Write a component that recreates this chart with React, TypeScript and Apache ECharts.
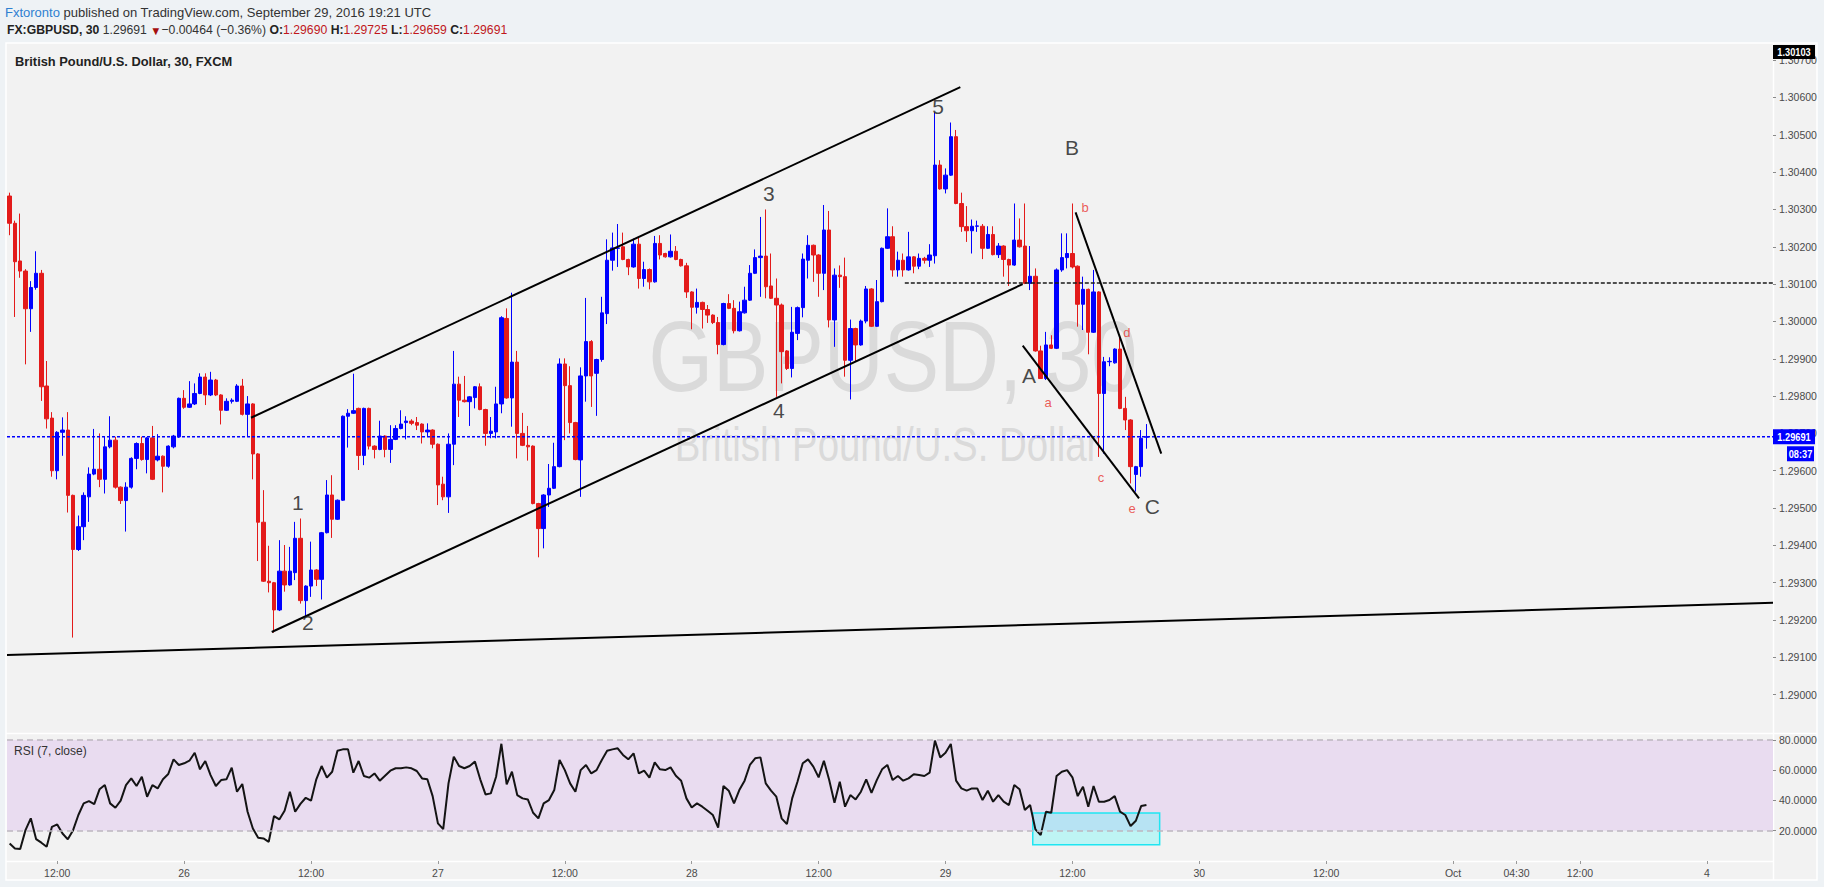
import React, { useEffect, useRef } from 'react';
import * as echarts from 'echarts';

// ---------- DATA ----------
// 30-minute GBPUSD candles, [open, close, low, high]
const candleOHLC: number[][] = [
  [1.30336, 1.30263, 1.30231, 1.30345], [1.30263, 1.30160, 1.30012, 1.30270], [1.30162, 1.30135, 1.30117, 1.30289],
  [1.30135, 1.30034, 1.29885, 1.30140], [1.30034, 1.30091, 1.29972, 1.30108], [1.30091, 1.30129, 1.30085, 1.30188],
  [1.30129, 1.29825, 1.29787, 1.30138], [1.29827, 1.29739, 1.29713, 1.29894], [1.29741, 1.29600, 1.29584, 1.29757],
  [1.29600, 1.29703, 1.29577, 1.29706], [1.29703, 1.29709, 1.29640, 1.29743], [1.29709, 1.29534, 1.29488, 1.29757],
  [1.29534, 1.29389, 1.29153, 1.29536], [1.29389, 1.29450, 1.29385, 1.29480], [1.29450, 1.29534, 1.29414, 1.29542],
  [1.29530, 1.29591, 1.29463, 1.29609], [1.29591, 1.29604, 1.29588, 1.29712], [1.29604, 1.29577, 1.29556, 1.29700],
  [1.29577, 1.29664, 1.29539, 1.29691], [1.29664, 1.29682, 1.29660, 1.29746], [1.29682, 1.29556, 1.29552, 1.29691],
  [1.29556, 1.29520, 1.29511, 1.29558], [1.29520, 1.29556, 1.29437, 1.29569], [1.29556, 1.29633, 1.29552, 1.29636],
  [1.29633, 1.29673, 1.29604, 1.29676], [1.29673, 1.29630, 1.29627, 1.29691], [1.29630, 1.29688, 1.29593, 1.29690],
  [1.29688, 1.29577, 1.29575, 1.29720], [1.29629, 1.29639, 1.29625, 1.29698], [1.29639, 1.29612, 1.29542, 1.29641],
  [1.29612, 1.29666, 1.29608, 1.29668], [1.29664, 1.29693, 1.29660, 1.29696], [1.29691, 1.29794, 1.29688, 1.29796],
  [1.29794, 1.29770, 1.29766, 1.29816], [1.29770, 1.29779, 1.29768, 1.29840], [1.29779, 1.29807, 1.29776, 1.29834],
  [1.29807, 1.29851, 1.29805, 1.29861], [1.29851, 1.29803, 1.29776, 1.29861], [1.29803, 1.29843, 1.29800, 1.29865],
  [1.29843, 1.29803, 1.29800, 1.29846], [1.29803, 1.29762, 1.29724, 1.29805], [1.29762, 1.29786, 1.29760, 1.29794],
  [1.29786, 1.29789, 1.29780, 1.29794], [1.29786, 1.29827, 1.29784, 1.29832], [1.29827, 1.29751, 1.29748, 1.29846],
  [1.29751, 1.29779, 1.29693, 1.29800], [1.29779, 1.29645, 1.29577, 1.29781], [1.29645, 1.29462, 1.29358, 1.29647],
  [1.29462, 1.29304, 1.29302, 1.29548], [1.29304, 1.29300, 1.29274, 1.29399], [1.29300, 1.29227, 1.29166, 1.29302],
  [1.29227, 1.29331, 1.29224, 1.29414], [1.29331, 1.29294, 1.29276, 1.29401], [1.29294, 1.29331, 1.29292, 1.29396],
  [1.29327, 1.29419, 1.29307, 1.29463], [1.29419, 1.29252, 1.29244, 1.29472], [1.29252, 1.29291, 1.29209, 1.29293],
  [1.29291, 1.29334, 1.29262, 1.29410], [1.29334, 1.29309, 1.29291, 1.29336], [1.29309, 1.29434, 1.29255, 1.29436],
  [1.29434, 1.29535, 1.29432, 1.29575], [1.29535, 1.29470, 1.29420, 1.29588], [1.29470, 1.29521, 1.29468, 1.29523],
  [1.29521, 1.29746, 1.29519, 1.29748], [1.29746, 1.29754, 1.29662, 1.29765], [1.29754, 1.29761, 1.29752, 1.29860],
  [1.29767, 1.29641, 1.29602, 1.29769], [1.29641, 1.29767, 1.29615, 1.29769], [1.29767, 1.29666, 1.29657, 1.29769],
  [1.29666, 1.29657, 1.29633, 1.29668], [1.29657, 1.29693, 1.29655, 1.29734], [1.29693, 1.29657, 1.29636, 1.29695],
  [1.29657, 1.29684, 1.29621, 1.29722], [1.29684, 1.29713, 1.29682, 1.29722], [1.29713, 1.29725, 1.29711, 1.29762],
  [1.29729, 1.29733, 1.29684, 1.29746], [1.29733, 1.29727, 1.29722, 1.29738], [1.29729, 1.29722, 1.29709, 1.29744],
  [1.29725, 1.29704, 1.29673, 1.29727], [1.29704, 1.29709, 1.29691, 1.29727], [1.29709, 1.29671, 1.29660, 1.29711],
  [1.29671, 1.29562, 1.29508, 1.29673], [1.29564, 1.29530, 1.29521, 1.29584], [1.29530, 1.29671, 1.29487, 1.29700],
  [1.29671, 1.29832, 1.29615, 1.29921], [1.29832, 1.29789, 1.29744, 1.29852], [1.29789, 1.29785, 1.29783, 1.29854],
  [1.29785, 1.29798, 1.29720, 1.29800], [1.29796, 1.29825, 1.29767, 1.29827], [1.29825, 1.29764, 1.29762, 1.29834],
  [1.29764, 1.29700, 1.29667, 1.29766], [1.29700, 1.29706, 1.29687, 1.29744], [1.29704, 1.29779, 1.29687, 1.29825],
  [1.29779, 1.30010, 1.29754, 1.30014], [1.30008, 1.29795, 1.29793, 1.30035], [1.29795, 1.29891, 1.29718, 1.30077],
  [1.29891, 1.29700, 1.29633, 1.29921], [1.29700, 1.29668, 1.29666, 1.29755], [1.29668, 1.29664, 1.29627, 1.29720],
  [1.29666, 1.29512, 1.29510, 1.29668], [1.29512, 1.29445, 1.29368, 1.29514], [1.29445, 1.29535, 1.29392, 1.29537],
  [1.29535, 1.29553, 1.29503, 1.29618], [1.29553, 1.29611, 1.29551, 1.29675], [1.29611, 1.29886, 1.29609, 1.29901],
  [1.29886, 1.29828, 1.29682, 1.29901], [1.29828, 1.29729, 1.29700, 1.29880], [1.29729, 1.29630, 1.29628, 1.29731],
  [1.29629, 1.29854, 1.29530, 1.29877], [1.29854, 1.29946, 1.29785, 1.30063], [1.29946, 1.29854, 1.29771, 1.29950],
  [1.29861, 1.29898, 1.29747, 1.29900], [1.29898, 1.30023, 1.29892, 1.30066], [1.30021, 1.30164, 1.29993, 1.30220],
  [1.30164, 1.30197, 1.30136, 1.30238], [1.30196, 1.30197, 1.30146, 1.30261], [1.30200, 1.30166, 1.30164, 1.30238],
  [1.30166, 1.30146, 1.30124, 1.30168], [1.30146, 1.30207, 1.30144, 1.30222], [1.30207, 1.30115, 1.30088, 1.30225],
  [1.30115, 1.30139, 1.30093, 1.30160], [1.30139, 1.30106, 1.30086, 1.30142], [1.30106, 1.30209, 1.30104, 1.30229],
  [1.30209, 1.30178, 1.30166, 1.30231], [1.30182, 1.30173, 1.30171, 1.30184], [1.30173, 1.30188, 1.30171, 1.30233],
  [1.30188, 1.30166, 1.30164, 1.30202], [1.30166, 1.30149, 1.30147, 1.30168], [1.30149, 1.30079, 1.30063, 1.30157],
  [1.30079, 1.30038, 1.29979, 1.30081], [1.30038, 1.30051, 1.30021, 1.30088], [1.30051, 1.30032, 1.29981, 1.30053],
  [1.30032, 1.30017, 1.29996, 1.30044], [1.30017, 1.29997, 1.29993, 1.30019], [1.29997, 1.29938, 1.29912, 1.30012],
  [1.29938, 1.30048, 1.29936, 1.30050], [1.30048, 1.30035, 1.30033, 1.30073], [1.30035, 1.29975, 1.29968, 1.30057],
  [1.29975, 1.30026, 1.29973, 1.30053], [1.30023, 1.30057, 1.30021, 1.30093], [1.30057, 1.30129, 1.30055, 1.30151],
  [1.30129, 1.30171, 1.30127, 1.30193], [1.30171, 1.30175, 1.30066, 1.30280], [1.30175, 1.30093, 1.30062, 1.30300],
  [1.30095, 1.30062, 1.30060, 1.30182], [1.30062, 1.30044, 1.29798, 1.30115], [1.30044, 1.29919, 1.29834, 1.30048],
  [1.29921, 1.29874, 1.29870, 1.29923], [1.29874, 1.29971, 1.29850, 1.30039], [1.29968, 1.30037, 1.29950, 1.30040],
  [1.30037, 1.30167, 1.30011, 1.30182], [1.30164, 1.30204, 1.30115, 1.30231], [1.30204, 1.30178, 1.30106, 1.30206],
  [1.30178, 1.30129, 1.30066, 1.30180], [1.30129, 1.30245, 1.30084, 1.30312], [1.30245, 1.30004, 1.29984, 1.30296],
  [1.30004, 1.30124, 1.29932, 1.30142], [1.30124, 1.30120, 1.30090, 1.30150], [1.30120, 1.29896, 1.29852, 1.30171],
  [1.29896, 1.29981, 1.29791, 1.30005], [1.29981, 1.29937, 1.29892, 1.29983], [1.29937, 1.30001, 1.29935, 1.30005],
  [1.30001, 1.30087, 1.29995, 1.30095], [1.30087, 1.29987, 1.29985, 1.30089], [1.29987, 1.30053, 1.29986, 1.30111],
  [1.30053, 1.30196, 1.30051, 1.30198], [1.30196, 1.30227, 1.30194, 1.30303], [1.30227, 1.30138, 1.30120, 1.30255],
  [1.30138, 1.30164, 1.30120, 1.30187], [1.30164, 1.30138, 1.30120, 1.30182], [1.30138, 1.30173, 1.30136, 1.30240],
  [1.30173, 1.30148, 1.30129, 1.30175], [1.30148, 1.30169, 1.30140, 1.30182], [1.30169, 1.30164, 1.30155, 1.30173],
  [1.30164, 1.30178, 1.30146, 1.30207], [1.30176, 1.30419, 1.30155, 1.30560], [1.30419, 1.30355, 1.30353, 1.30432],
  [1.30355, 1.30392, 1.30343, 1.30410], [1.30392, 1.30495, 1.30390, 1.30533], [1.30495, 1.30316, 1.30314, 1.30513],
  [1.30316, 1.30254, 1.30240, 1.30345], [1.30254, 1.30243, 1.30213, 1.30309], [1.30243, 1.30255, 1.30182, 1.30273],
  [1.30255, 1.30256, 1.30240, 1.30270], [1.30255, 1.30196, 1.30167, 1.30261], [1.30196, 1.30233, 1.30194, 1.30255],
  [1.30233, 1.30179, 1.30177, 1.30255], [1.30179, 1.30202, 1.30170, 1.30210], [1.30202, 1.30166, 1.30120, 1.30204],
  [1.30166, 1.30151, 1.30095, 1.30168], [1.30151, 1.30218, 1.30149, 1.30316], [1.30218, 1.30200, 1.30198, 1.30276],
  [1.30202, 1.30102, 1.30100, 1.30316], [1.30102, 1.30121, 1.30084, 1.30202], [1.30121, 1.29921, 1.29919, 1.30142],
  [1.29921, 1.29847, 1.29846, 1.29935], [1.29847, 1.29937, 1.29843, 1.29972], [1.29937, 1.29928, 1.29926, 1.29963],
  [1.29928, 1.30138, 1.29926, 1.30142], [1.30138, 1.30171, 1.30133, 1.30236], [1.30171, 1.30182, 1.30142, 1.30236],
  [1.30182, 1.30146, 1.30142, 1.30316], [1.30148, 1.30046, 1.29986, 1.30150], [1.30046, 1.30086, 1.29977, 1.30120],
  [1.30086, 1.29971, 1.29912, 1.30088], [1.29971, 1.30079, 1.29969, 1.30138], [1.30079, 1.29807, 1.29637, 1.30081],
  [1.29807, 1.29892, 1.29646, 1.29905], [1.29892, 1.29893, 1.29880, 1.29904], [1.29889, 1.29926, 1.29887, 1.29928],
  [1.29926, 1.29767, 1.29765, 1.29959], [1.29767, 1.29736, 1.29709, 1.29798], [1.29736, 1.29611, 1.29566, 1.29738],
  [1.29590, 1.29611, 1.29544, 1.29613], [1.29611, 1.29687, 1.29584, 1.29709], [1.29690, 1.29691, 1.29659, 1.29725],
];

// RSI(7, close), one value per candle
const rsiValues: number[] = [
  11.6, 8.3, 7.9, 20.4, 28.2, 14.5, 12.1, 9.4, 22.6, 24.2,
  18.2, 14.3, 20.4, 30.4, 38.1, 39.6, 37.6, 47.4, 50.2, 38.1,
  35.2, 39.9, 50.2, 54.6, 49.6, 55.7, 42.5, 50.2, 48.0, 54.0,
  57.5, 67.2, 63.5, 64.6, 66.3, 71.6, 60.6, 66.1, 56.8, 49.6,
  53.5, 54.0, 61.7, 45.8, 50.9, 32.6, 21.5, 15.4, 14.9, 12.7,
  29.7, 27.5, 33.2, 45.8, 32.6, 37.8, 41.8, 39.9, 54.0, 62.8,
  55.1, 59.0, 72.9, 73.8, 73.8, 58.4, 66.1, 56.2, 55.1, 57.9,
  53.1, 56.4, 59.7, 61.3, 61.3, 61.9, 61.3, 59.5, 54.6, 54.0,
  42.9, 24.9, 21.1, 51.3, 69.0, 62.8, 61.3, 62.8, 65.7, 54.0,
  44.0, 44.7, 55.7, 77.5, 50.7, 59.0, 43.6, 41.4, 40.7, 31.9,
  28.2, 38.1, 40.3, 46.9, 66.8, 60.1, 51.3, 45.8, 60.1, 63.5,
  57.9, 60.1, 66.8, 72.9, 73.8, 74.5, 70.1, 67.2, 71.2, 57.9,
  59.7, 55.1, 65.2, 60.6, 60.1, 61.9, 56.4, 53.1, 41.4, 35.4,
  38.1, 35.9, 33.2, 30.4, 22.0, 49.6, 46.5, 38.1, 46.9, 53.1,
  63.5, 67.9, 68.5, 51.3, 46.5, 42.5, 28.2, 24.4, 41.4, 52.4,
  64.6, 67.2, 62.4, 55.3, 66.3, 53.5, 38.5, 52.4, 35.9, 43.6,
  40.7, 45.8, 54.0, 45.1, 53.5, 60.6, 63.5, 53.5, 56.2, 53.1,
  54.6, 57.3, 56.8, 56.2, 58.4, 79.6, 68.5, 71.6, 77.4, 53.1,
  48.0, 46.5, 48.0, 48.0, 40.3, 46.5, 39.2, 43.6, 39.2, 37.0,
  50.2, 47.4, 33.7, 37.0, 20.9, 17.1, 32.6, 31.9, 56.2, 59.0,
  60.1, 55.3, 42.9, 49.1, 35.9, 49.6, 39.2, 39.2, 40.3, 42.9,
  32.6, 30.4, 23.1, 26.6, 36.3, 37.0,
];

const SLOT_COUNT = 334; // visible 30-minute slots (incl. empty future area)
const timeLabelIndex = [9, 33, 57, 81, 105, 129, 153, 177, 201, 225, 249, 273, 285, 297, 321];
const timeLabelText = ['12:00', '26', '12:00', '27', '12:00', '28', '12:00', '29', '12:00', '30', '12:00', 'Oct', '04:30', '12:00', '4'];

const priceMin = 1.289;
const priceMax = 1.30746;
const priceStep = 0.001;
const rsiMin = 0;
const rsiMax = 83.3;
const rsiStep = 20;
const rsiBandLow = 20;
const rsiBandHigh = 80;

const lastPrice = 1.29691;
const priceChange = '\u22120.00464 (\u22120.36%)';
const levelPrice = 1.30103;
const levelStartIndex = 169.3;

// trend lines: [slot index, price] start / end
const trendStart = [[-0.5, 1.29106], [45.65, 1.29742], [49.57, 1.29168], [191.6, 1.29935], [201.6, 1.30292]];
const trendEnd = [[333.5, 1.29246], [179.8, 1.30628], [191.6, 1.30100], [213.6, 1.29526], [217.8, 1.29646]];

const waveText = ['1', '2', '3', '4', '5', 'A', 'B', 'C'];
const waveIndex = [54.5, 56.4, 143.6, 145.5, 175.6, 192.8, 200.9, 216.1];
const wavePrice = [1.29516, 1.29194, 1.30344, 1.29762, 1.30577, 1.29856, 1.30467, 1.29505];
const subWaveText = ['a', 'b', 'c', 'd', 'e'];
const subWaveIndex = [196.4, 203.4, 206.4, 211.3, 212.3];
const subWavePrice = [1.29784, 1.30304, 1.29583, 1.29971, 1.29500];

const rsiBoxIndex = [193.5, 217.5];
const rsiBoxValue = [10.8, 31.8];

// ---------- STYLE ----------
const SANS = '"Liberation Sans", Arial, sans-serif';
const UP = '#0000ff';
const DOWN = '#e31b1b';

export default function App() {
  const ref = useRef<HTMLDivElement>(null);

  useEffect(() => {
    document.body.style.margin = '0';
    const chart = echarts.init(ref.current as HTMLDivElement, undefined, { renderer: 'svg' });

    const slotNames = Array.from({ length: SLOT_COUNT }, (_, i) => String(i));
    const labelAt = new Map<number, string>();
    timeLabelIndex.forEach((idx, k) => labelAt.set(idx, timeLabelText[k]));
    const last = candleOHLC[candleOHLC.length - 1];

    const txt = (id: string, x: number, y: number, style: any, z = 50, extra: any = {}) => ({
      type: 'text', id, x, y, z, silent: true, ...extra,
      style: { verticalAlign: 'middle', textVerticalAlign: 'middle', ...style },
    });

    const baseGraphic: any[] = [
      { type: 'rect', id: 'panel', z: -20, silent: true, shape: { x: 6, y: 43, width: 1811, height: 837 }, style: { fill: '#f2f2f2', stroke: '#ffffff', lineWidth: 1.5 } },
      { type: 'line', id: 'sepV', z: -19, silent: true, shape: { x1: 1773.5, y1: 43, x2: 1773.5, y2: 880 }, style: { stroke: '#ffffff', lineWidth: 1.5 } },
      { type: 'line', id: 'sepH', z: -19, silent: true, shape: { x1: 6, y1: 733.5, x2: 1817, y2: 733.5 }, style: { stroke: '#ffffff', lineWidth: 1.5 } },
      { type: 'line', id: 'sepT', z: -19, silent: true, shape: { x1: 6, y1: 861.5, x2: 1773.5, y2: 861.5 }, style: { stroke: '#ffffff', lineWidth: 1.5 } },
      txt('wm1', 893, 356, { text: 'GBPUSD, 30', fill: '#dadada', fontSize: 100, fontFamily: SANS, align: 'center', textAlign: 'center' }, -10, { scaleX: 0.83 }),
      txt('wm2', 887, 444, { text: 'British Pound/U.S. Dollar', fill: '#dadada', fontSize: 48, fontFamily: SANS, align: 'center', textAlign: 'center' }, -10, { scaleX: 0.8 }),
      txt('head1', 5, 12, {
        text: '{a|Fxtoronto} {b|published on TradingView.com, September 29, 2016 19:21 UTC}',
        fontSize: 13, fontFamily: SANS, fill: '#333',
        rich: {
          a: { fill: '#2f80d1', fontSize: 13, fontFamily: SANS },
          b: { fill: '#333333', fontSize: 13, fontFamily: SANS },
        },
      }),
      txt('head2', 7, 30, {
        text: `{k|FX:GBPUSD, 30} {n|${lastPrice.toFixed(5)}} {r|\u25BC}{n|${priceChange}} {k|O:}{v|${last[0].toFixed(5)}} {k|H:}{v|${last[3].toFixed(5)}} {k|L:}{v|${last[2].toFixed(5)}} {k|C:}{v|${last[1].toFixed(5)}}`,
        fontSize: 13, fontFamily: SANS, fill: '#222',
        rich: {
          k: { fill: '#222222', fontSize: 13, fontWeight: 'bold', fontFamily: SANS },
          n: { fill: '#333333', fontSize: 13, fontFamily: SANS },
          r: { fill: '#a50f0f', fontSize: 12, fontFamily: SANS },
          v: { fill: '#c0171b', fontSize: 13, fontFamily: SANS },
        },
      }, 50, { scaleX: 0.94 }),
      txt('title', 15, 61, { text: 'British Pound/U.S. Dollar, 30, FXCM', fill: '#222', fontSize: 13, fontWeight: 'bold', fontFamily: SANS }, 50, { scaleX: 0.99 }),
      txt('rsiTitle', 14, 751, { text: 'RSI (7, close)', fill: '#333', fontSize: 12, fontFamily: SANS }),
    ];

    const series: any[] = [
      {
        type: 'candlestick', name: 'GBPUSD', xAxisIndex: 0, yAxisIndex: 0, data: candleOHLC, barWidth: '74%', z: 3,
        itemStyle: { color: UP, color0: DOWN, borderColor: UP, borderColor0: DOWN, borderWidth: 1 },
      },
      {
        type: 'line', name: 'last', xAxisIndex: 1, yAxisIndex: 0, symbol: 'none', silent: true, z: 4,
        data: [[-0.5, lastPrice], [SLOT_COUNT - 0.5, lastPrice]],
        lineStyle: { color: '#0000ff', width: 1.5, type: [3, 2] },
      },
      {
        type: 'line', name: 'level', xAxisIndex: 1, yAxisIndex: 0, symbol: 'none', silent: true, z: 4,
        data: [[levelStartIndex, levelPrice], [SLOT_COUNT - 0.5, levelPrice]],
        lineStyle: { color: '#1a1a1a', width: 1.5, type: [4, 2] },
      },
      ...trendStart.map((s, k) => ({
        type: 'line', name: 'trend' + k, xAxisIndex: 1, yAxisIndex: 0, symbol: 'none', silent: true, z: 4,
        data: [s, trendEnd[k]], lineStyle: { color: '#000000', width: 2 },
      })),
      {
        type: 'scatter', name: 'waves', xAxisIndex: 1, yAxisIndex: 0, symbolSize: 1, silent: true, z: 6,
        itemStyle: { color: 'rgba(0,0,0,0)' },
        data: waveText.map((t, k) => ({ name: t, value: [waveIndex[k], wavePrice[k]] })),
        label: { show: true, position: 'inside', formatter: '{b}', color: '#1a1a1a', fontSize: 21, fontFamily: SANS },
      },
      {
        type: 'scatter', name: 'subwaves', xAxisIndex: 1, yAxisIndex: 0, symbolSize: 1, silent: true, z: 6,
        itemStyle: { color: 'rgba(0,0,0,0)' },
        data: subWaveText.map((t, k) => ({ name: t, value: [subWaveIndex[k], subWavePrice[k]] })),
        label: { show: true, position: 'inside', formatter: '{b}', color: '#e8332f', fontSize: 13, fontFamily: SANS },
      },
      {
        type: 'line', name: 'RSI', xAxisIndex: 3, yAxisIndex: 1, symbol: 'none', silent: true, z: 4,
        data: rsiValues.map((v, i) => [i, v]),
        lineStyle: { color: '#141414', width: 2 },
        markArea: {
          silent: true, animation: false,
          data: [
            [{ yAxis: rsiBandLow, itemStyle: { color: '#e9dcf0' } }, { yAxis: rsiBandHigh }],
            [
              { coord: [rsiBoxIndex[0], rsiBoxValue[0]], itemStyle: { color: 'rgba(0,255,255,0.21)', borderColor: '#1fe6f2', borderWidth: 1.5 } },
              { coord: [rsiBoxIndex[1], rsiBoxValue[1]] },
            ],
          ],
        },
        markLine: {
          silent: true, symbol: ['none', 'none'], label: { show: false }, animation: false,
          lineStyle: { color: '#bdb6c0', type: [6, 4], width: 1.5 },
          data: [{ yAxis: rsiBandHigh }, { yAxis: rsiBandLow }],
        },
      },
    ];

    const axisLabelStyle = { color: '#4a4a4a', fontSize: 10.5, fontFamily: SANS };
    const noLine = { show: false, onZero: false };

    const option: any = {
      animation: false,
      backgroundColor: '#eef2f5',
      grid: [
        { left: 7, right: 51, top: 43, height: 689, show: false, containLabel: false, outerBoundsMode: 'none' },
        { left: 7, right: 51, top: 735, height: 126, show: false, containLabel: false, outerBoundsMode: 'none' },
      ],
      xAxis: [
        { type: 'category', gridIndex: 0, data: slotNames, boundaryGap: true, show: false, axisLine: noLine },
        { type: 'value', gridIndex: 0, min: -0.5, max: SLOT_COUNT - 0.5, show: false, axisLine: noLine },
        {
          type: 'category', gridIndex: 1, data: slotNames, boundaryGap: true,
          axisLine: noLine, splitLine: { show: false },
          axisTick: { show: true, alignWithLabel: true, interval: (i: number) => labelAt.has(i), length: 3, lineStyle: { color: '#9a9a9a' } },
          axisLabel: { show: true, interval: (i: number) => labelAt.has(i), formatter: (_v: string, i: number) => labelAt.get(i) ?? '', margin: 6, ...axisLabelStyle },
        },
        { type: 'value', gridIndex: 1, min: -0.5, max: SLOT_COUNT - 0.5, show: false, axisLine: noLine },
      ],
      yAxis: [
        {
          type: 'value', gridIndex: 0, position: 'right', min: priceMin, max: priceMax, interval: priceStep,
          axisLine: noLine, splitLine: { show: false },
          axisTick: { show: true, length: 3, lineStyle: { color: '#8a8a8a' } },
          axisLabel: { showMinLabel: false, showMaxLabel: false, margin: 6, formatter: (v: number) => v.toFixed(5), ...axisLabelStyle },
        },
        {
          type: 'value', gridIndex: 1, position: 'right', min: rsiMin, max: rsiMax, interval: rsiStep,
          axisLine: noLine, splitLine: { show: false },
          axisTick: { show: true, length: 3, lineStyle: { color: '#8a8a8a' } },
          axisLabel: { showMinLabel: false, showMaxLabel: false, margin: 6, formatter: (v: number) => v.toFixed(4), ...axisLabelStyle },
        },
      ],
      series,
      graphic: baseGraphic,
    };

    chart.setOption(option);

    const yLast = chart.convertToPixel({ yAxisIndex: 0 }, lastPrice) as number;
    const gridTop = 43;
    const tagText = (id: string, x: number, y: number, text: string) =>
      txt(id, x, y, { text, fill: '#ffffff', fontSize: 11, fontWeight: 'bold', fontFamily: SANS, align: 'center', textAlign: 'center' }, 101, { scaleX: 0.84 });
    chart.setOption({
      graphic: [
        { type: 'rect', id: 'tagLevelBox', z: 100, silent: true, shape: { x: 1773, y: gridTop + 2, width: 42, height: 14 }, style: { fill: '#000000' } },
        tagText('tagLevelText', 1794, gridTop + 9, levelPrice.toFixed(5)),
        { type: 'rect', id: 'tagLastBox', z: 100, silent: true, shape: { x: 1773, y: yLast - 7.5, width: 42, height: 15 }, style: { fill: '#0000ff' } },
        tagText('tagLastText', 1794, yLast, lastPrice.toFixed(5)),
        { type: 'rect', id: 'tagTimeBox', z: 100, silent: true, shape: { x: 1787, y: yLast + 9.5, width: 27, height: 15 }, style: { fill: '#0000ff' } },
        tagText('tagTimeText', 1800.5, yLast + 17, '08:37'),
      ],
    });

    return () => chart.dispose();
  }, []);

  return (
    <div
      ref={ref}
      style={{ position: 'fixed', left: 0, top: 0, width: 1824, height: 887, background: '#eef2f5' }}
    />
  );
}
